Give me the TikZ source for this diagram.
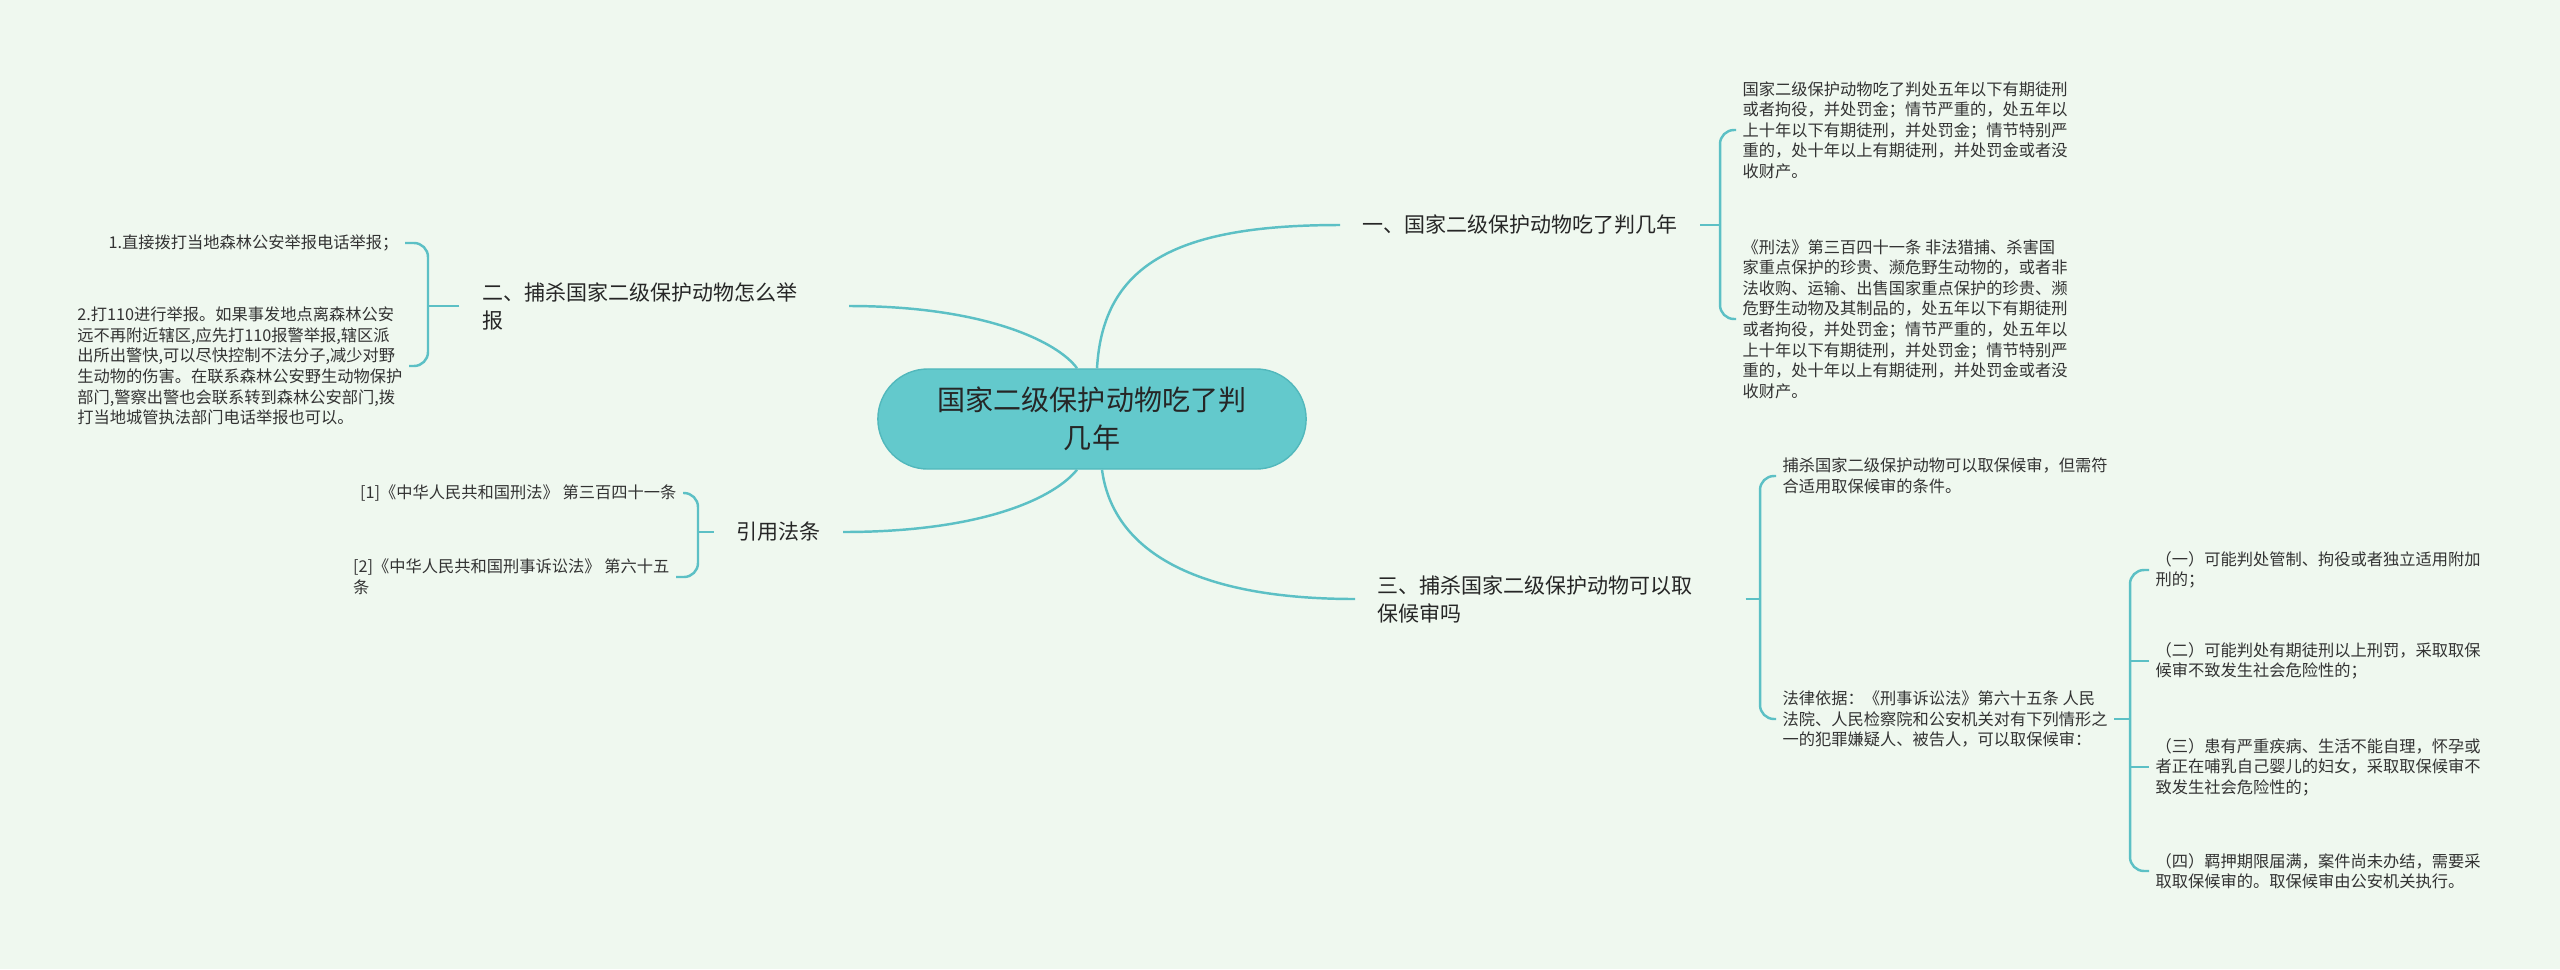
\documentclass[tikz,border=0pt]{standalone}
\usepackage{fontspec}
\newfontfamily\cjk{Noto Sans CJK SC}
\usepackage{tikz}
\definecolor{bgmint}{HTML}{EFF8EF}
\definecolor{tealline}{HTML}{5CC0C5}
\definecolor{rootfill}{HTML}{63C9CC}
\definecolor{rootedge}{HTML}{52B8BC}
\definecolor{inktext}{HTML}{333333}
\tikzset{
  link/.style={draw=tealline,line width=0.7pt},
  root/.style={draw=rootedge,fill=rootfill,rounded corners=0.5cm,minimum width=4.28cm,
    minimum height=1cm,align=center,text=black!85,font=\cjk\fontsize{7.97pt}{10.8pt}\selectfont},
  branch/.style={inner xsep=0.22cm,inner ysep=0.04cm,align=left,text=black!85,
    font=\cjk\fontsize{5.97pt}{7.97pt}\selectfont},
  leaf/.style={inner xsep=0.06cm,inner ysep=0.03cm,align=left,text=inktext,
    font=\cjk\fontsize{4.62pt}{5.85pt}\selectfont}
}
\begin{document}
\begin{tikzpicture}[x=0.01cm,y=-0.01cm]
\fill[bgmint] (0,0) rectangle (2560,969);
\useasboundingbox (0,0) rectangle (2560,969);

% centre and first-level topics
\node[root] (root) at (1092,419) {国家二级保护动物吃了判\\几年};
\node[branch,anchor=west] (b1) at (1340,225) {一、国家二级保护动物吃了判几年};
\node[branch,anchor=west,text width=3.45cm] (b3) at (1355,599) {三、捕杀国家二级保护动物可以取\\保候审吗};
\node[branch,anchor=east,text width=3.44cm] (b2) at (849,306) {二、捕杀国家二级保护动物怎么举\\报};
\node[branch,anchor=east] (b4) at (843,532) {引用法条};

\draw[link] ([xshift=0.05cm]root.north) .. controls (1103,262) and (1180,225) .. (b1.west);
\draw[link] ([xshift=0.1cm]root.south) .. controls (1112,545) and (1185,599) .. (b3.west);
\draw[link] ([xshift=-0.15cm]root.north) .. controls (1058,342) and (985,306) .. (b2.east);
\draw[link] ([xshift=-0.15cm]root.south) .. controls (1055,497) and (985,532) .. (b4.east);

% branch one: sentences
\node[leaf,anchor=west] (r1a) at (1736,130) {国家二级保护动物吃了判处五年以下有期徒刑\\
或者拘役，并处罚金；情节严重的，处五年以\\
上十年以下有期徒刑，并处罚金；情节特别严\\
重的，处十年以上有期徒刑，并处罚金或者没\\
收财产。};
\node[leaf,anchor=west] (r1b) at (1736,319) {《刑法》第三百四十一条 非法猎捕、杀害国\\
家重点保护的珍贵、濒危野生动物的，或者非\\
法收购、运输、出售国家重点保护的珍贵、濒\\
危野生动物及其制品的，处五年以下有期徒刑\\
或者拘役，并处罚金；情节严重的，处五年以\\
上十年以下有期徒刑，并处罚金；情节特别严\\
重的，处十年以上有期徒刑，并处罚金或者没\\
收财产。};
\coordinate (k1) at (1720,225);
\draw[link] (b1.east) -- (k1);
\draw[link,rounded corners=0.14cm] (r1a.west) -| (k1) |- (r1b.west);

% branch three: bail
\node[leaf,anchor=west] (r3a) at (1776,476) {捕杀国家二级保护动物可以取保候审，但需符\\
合适用取保候审的条件。};
\node[leaf,anchor=west] (r3b) at (1776,719) {法律依据：《刑事诉讼法》第六十五条 人民\\
法院、人民检察院和公安机关对有下列情形之\\
一的犯罪嫌疑人、被告人，可以取保候审：};
\coordinate (k3) at (1760,599);
\draw[link] (b3.east) -- (k3);
\draw[link,rounded corners=0.14cm] (r3a.west) -| (k3) |- (r3b.west);

\node[leaf,anchor=west] (s1) at (2149,570) {（一）可能判处管制、拘役或者独立适用附加\\
刑的；};
\node[leaf,anchor=west] (s2) at (2149,661) {（二）可能判处有期徒刑以上刑罚，采取取保\\
候审不致发生社会危险性的；};
\node[leaf,anchor=west] (s3) at (2149,767) {（三）患有严重疾病、生活不能自理，怀孕或\\
者正在哺乳自己婴儿的妇女，采取取保候审不\\
致发生社会危险性的；};
\node[leaf,anchor=west] (s4) at (2149,871) {（四）羁押期限届满，案件尚未办结，需要采\\
取取保候审的。取保候审由公安机关执行。};
\coordinate (k4) at (2130,719);
\draw[link] (r3b.east) -- (k4);
\draw[link,rounded corners=0.14cm] (s1.west) -| (k4) |- (s4.west);
\foreach \s in {s2,s3}{
  \draw[link,rounded corners=0.14cm] (\s.west) -- (\s.west -| k4);
}

% branch two: reporting
\node[leaf,anchor=east] (l1) at (405,243) {1.直接拨打当地森林公安举报电话举报；};
\node[leaf,anchor=east] (l2) at (409,366) {2.打110进行举报。如果事发地点离森林公安\\
远不再附近辖区,应先打110报警举报,辖区派\\
出所出警快,可以尽快控制不法分子,减少对野\\
生动物的伤害。在联系森林公安野生动物保护\\
部门,警察出警也会联系转到森林公安部门,拨\\
打当地城管执法部门电话举报也可以。};
\coordinate (k2) at (428,306);
\draw[link] (b2.west) -- (k2);
\draw[link,rounded corners=0.14cm] (l1.east) -| (k2) |- (l2.east);

% references
\node[leaf,anchor=east] (c1) at (683,493) {[1]《中华人民共和国刑法》 第三百四十一条};
\node[leaf,anchor=east] (c2) at (676,577) {[2]《中华人民共和国刑事诉讼法》 第六十五\\
条};
\coordinate (k5) at (698,532);
\draw[link] (b4.west) -- (k5);
\draw[link,rounded corners=0.14cm] (c1.east) -| (k5) |- (c2.east);
\end{tikzpicture}
\end{document}
